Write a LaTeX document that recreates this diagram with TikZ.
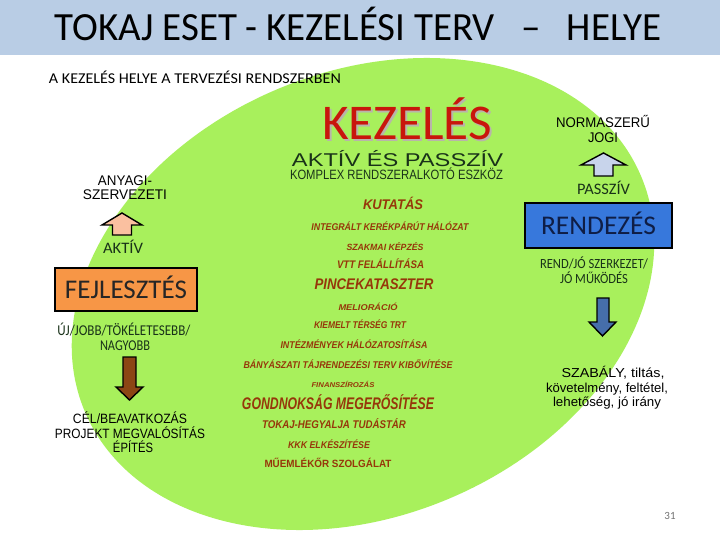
\documentclass[tikz,border=0pt]{standalone}
\usepackage{fontspec}
\usepackage{graphicx}
\setmainfont{Carlito}
\newfontfamily\arial{Liberation Sans}
\newcommand\fitw[3]{\resizebox{#1pt}{\height}{\fontsize{#2}{#2}\selectfont #3}}
\definecolor{kgreen}{RGB}{168,240,92}
\definecolor{barblue}{RGB}{185,205,229}
\definecolor{kred}{RGB}{200,22,12}
\definecolor{shgray}{RGB}{185,180,170}
\definecolor{dkgreen}{RGB}{25,50,25}
\definecolor{brn}{RGB}{150,55,10}
\definecolor{orng}{RGB}{247,150,70}
\definecolor{rblue}{RGB}{55,120,220}
\definecolor{navy}{RGB}{15,30,70}
\definecolor{peach}{RGB}{250,192,160}
\definecolor{ltblue}{RGB}{200,212,235}
\definecolor{darr}{RGB}{140,70,20}
\definecolor{barr}{RGB}{70,110,170}
\begin{document}
\begin{tikzpicture}[x=1pt,y=-1pt,
  lbl/.style={inner sep=0pt,anchor=base},
  brnlbl/.style={lbl,text=brn,font=\arial\bfseries\itshape},
  arial/.style={lbl,font=\arial},
  boxsty/.style={draw=black,line width=2pt,inner sep=0pt,anchor=center,text depth=0pt},
  blockarrow/.style={draw=black,line width=1.4pt,line join=miter}]
\useasboundingbox (0,0) rectangle (720,540);
% background
\fill[white] (0,0) rectangle (720,540);
\fill[barblue] (0,0) rectangle (720,55);
\fill[kgreen, rotate around={23:(363,294)}] (363,294) ellipse [x radius=302pt, y radius=222pt];
% title
\node[lbl] (title) at (358,41) {\fitw{607}{40}{TOKAJ ESET - KEZELÉSI TERV\hspace{0.45em} – \hspace{0.45em}HELYE}};
\node[lbl] (sub) at (195,84) {\fitw{292}{15}{A KEZELÉS HELYE A TERVEZÉSI RENDSZERBEN}};
% center heading
\node[lbl,text=shgray] (kezsh) at (409,142) {\fitw{170}{50}{KEZELÉS}};
\node[lbl,text=kred] (kez) at (407,140) {\fitw{170}{50}{KEZELÉS}};
\node[arial,text=dkgreen] (aktpassz) at (397.5,166.5) {\fitw{211}{18.5}{AKTÍV ÉS PASSZÍV}};
\node[arial,text=dkgreen] (kompl) at (396.5,180) {\fitw{213}{13.5}{KOMPLEX RENDSZERALKOTÓ ESZKÖZ}};
% list
\node[brnlbl] (l1) at (393,210) {\fitw{60}{14}{KUTATÁS}};
\node[brnlbl] (l2) at (390,230.5) {\fitw{157}{9.8}{INTEGRÁLT KERÉKPÁRÚT HÁLÓZAT}};
\node[brnlbl] (l3) at (385,250) {\fitw{77}{9}{SZAKMAI KÉPZÉS}};
\node[brnlbl] (l4) at (380.5,268.5) {\fitw{87}{11}{VTT FELÁLLÍTÁSA}};
\node[brnlbl] (l5) at (374,289.5) {\fitw{119}{15.4}{PINCEKATASZTER}};
\node[brnlbl] (l6) at (368,310) {\fitw{59}{8.4}{MELIORÁCIÓ}};
\node[brnlbl] (l7) at (360,328.5) {\fitw{92}{9.8}{KIEMELT TÉRSÉG TRT}};
\node[brnlbl] (l8) at (354,348.5) {\fitw{147}{9.8}{INTÉZMÉNYEK HÁLÓZATOSÍTÁSA}};
\node[brnlbl] (l9) at (348,368.5) {\fitw{209}{9.8}{BÁNYÁSZATI TÁJRENDEZÉSI TERV KIBŐVÍTÉSE}};
\node[brnlbl] (l10) at (343,387.5) {\fitw{63}{7}{FINANSZÍROZÁS}};
\node[brnlbl] (l11) at (338,409) {\fitw{192}{16.8}{GONDNOKSÁG MEGERŐSÍTÉSE}};
\node[brnlbl] (l12) at (334,428) {\fitw{144}{11.2}{TOKAJ-HEGYALJA TUDÁSTÁR}};
\node[brnlbl] (l13) at (329,448) {\fitw{82}{9.8}{KKK ELKÉSZÍTÉSE}};
\node[lbl,text=brn,font=\arial\bfseries] (l14) at (328,467) {\fitw{127}{10.5}{MŰEMLÉKŐR SZOLGÁLAT}};
% left column
\node[arial] (anyagi) at (125,186) {\fitw{54}{14}{ANYAGI-}};
\node[arial] (szerv) at (125,200) {\fitw{84}{14}{SZERVEZETI}};
\draw[blockarrow,fill=peach] (102,225) -- (122,213) -- (142,225) -- (131.5,225) -- (131.5,235) -- (112.5,235) -- (112.5,225) -- cycle;
\node[lbl,text=dkgreen] (aktiv) at (123,254) {\fitw{40}{16}{AKTÍV}};
\node[boxsty,fill=orng,minimum width=142pt,minimum height=43pt,text height=17.4pt,text=black!85] (fejl) at (126,289.5) {\fitw{122}{27}{FEJLESZTÉS}};
\node[lbl,text=dkgreen] (uj) at (124,335) {\fitw{133}{15}{ÚJ/JOBB/TÖKÉLETESEBB/}};
\node[lbl,text=dkgreen] (nagyobb) at (125,350) {\fitw{50}{15}{NAGYOBB}};
\draw[blockarrow,fill=darr] (123,357) -- (136,357) -- (136,387) -- (143,387) -- (129.5,400) -- (116,387) -- (123,387) -- cycle;
\node[arial] (cel) at (130,423) {\fitw{114}{13.5}{CÉL/BEAVATKOZÁS}};
\node[arial] (proj) at (130,438) {\fitw{150}{13.5}{PROJEKT MEGVALÓSÍTÁS}};
\node[arial] (epites) at (133,452) {\fitw{40}{13.5}{ÉPÍTÉS}};
% right column
\node[arial] (norma) at (603,128) {\fitw{94}{14}{NORMASZERŰ}};
\node[arial] (jogi) at (603,143) {\fitw{30}{14}{JOGI}};
\draw[blockarrow,fill=ltblue] (581,165) -- (603.5,153) -- (626,165) -- (613,165) -- (613,176) -- (594,176) -- (594,165) -- cycle;
\node[lbl,text=dkgreen] (passz) at (603.5,195) {\fitw{53}{16}{PASSZÍV}};
\node[boxsty,fill=rblue,minimum width=147pt,minimum height=45pt,text height=17.4pt,text=navy] (rend) at (598.5,225.5) {\fitw{115}{27}{RENDEZÉS}};
\node[lbl,text=dkgreen] (rendjo) at (594,268) {\fitw{108}{14}{REND/JÓ SZERKEZET/}};
\node[lbl,text=dkgreen] (jomuk) at (594,283) {\fitw{68}{14}{JÓ MŰKÖDÉS}};
\draw[blockarrow,fill=barr] (597,298) -- (609,298) -- (609,322) -- (616,322) -- (602.5,336) -- (589,322) -- (597,322) -- cycle;
\node[arial] (szab) at (613,377) {\fitw{103}{13}{SZABÁLY, tiltás,}};
\node[arial] (kovet) at (607,392) {\fitw{122}{13}{követelmény, feltétel,}};
\node[arial] (lehet) at (607,406) {\fitw{108}{13}{lehetőség, jó irány}};
% page number
\node[lbl,text=black!55] (pg) at (670,519) {\fontsize{11}{11}\selectfont 31};
\end{tikzpicture}
\end{document}
